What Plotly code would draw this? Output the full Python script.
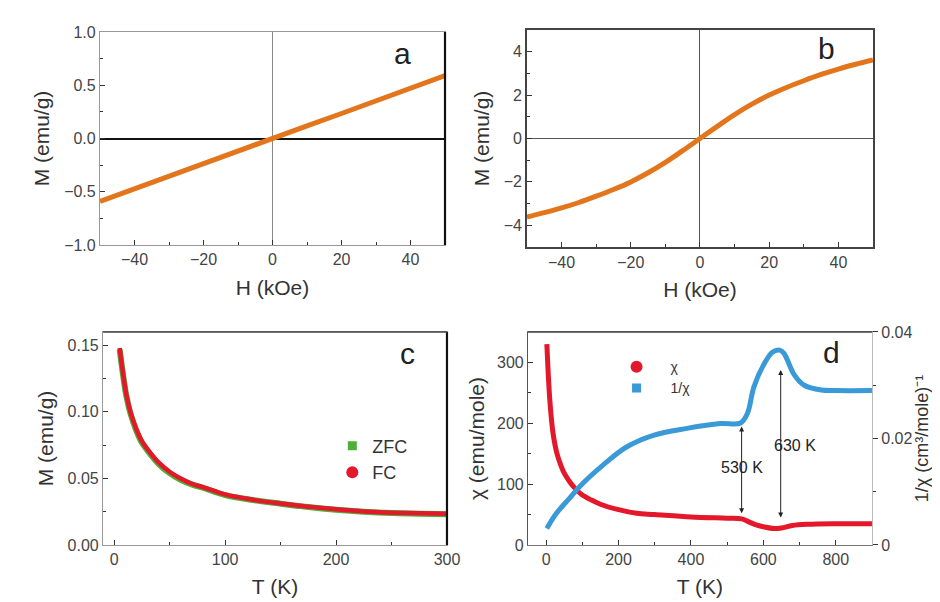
import plotly.graph_objects as go

# ---------------- data ----------------
# panel a: M vs H (linear)
H_a = [-50, -40, -30, -20, -10, 0, 10, 20, 30, 40, 50]
M_a = [-0.59, -0.47, -0.355, -0.235, -0.118, 0.0, 0.118, 0.235, 0.355, 0.47, 0.59]

# panel b: M vs H (S-shaped)
H_b = [-50, -45, -40, -35, -30, -25, -20, -15, -10, -5, 0, 5, 10, 15, 20, 25, 30, 35, 40, 45, 50]
M_b = [-3.62, -3.42, -3.2, -2.95, -2.66, -2.35, -2.0, -1.58, -1.1, -0.56, 0.0,
       0.56, 1.1, 1.58, 2.0, 2.35, 2.66, 2.95, 3.2, 3.42, 3.62]

# panel c: ZFC / FC
T_c = [5, 8, 11, 15, 20, 25, 30, 40, 50, 60, 70, 80, 100, 125, 150, 175, 200, 225, 250, 275, 300]
ZFC = [0.147, 0.128, 0.112, 0.098, 0.086, 0.077, 0.071, 0.061, 0.054, 0.049, 0.0455, 0.043,
       0.0375, 0.0338, 0.031, 0.0285, 0.0265, 0.025, 0.024, 0.0235, 0.023]
FC = [0.148, 0.129, 0.113, 0.099, 0.087, 0.078, 0.072, 0.062, 0.055, 0.050, 0.046, 0.0435,
      0.038, 0.034, 0.0312, 0.0288, 0.0268, 0.0252, 0.0243, 0.0238, 0.0234]

# panel d: chi and 1/chi vs T
T_chi = [2, 6, 10, 15, 20, 30, 40, 50, 65, 80, 100, 125, 150, 200, 250, 300, 400, 500, 540,
         560, 580, 600, 630, 650, 680, 720, 800, 900]
chi = [330, 280, 240, 205, 180, 150, 132, 118, 104, 93, 82, 74, 67, 58, 52, 50, 46, 44, 43,
       38, 33, 30, 27, 28, 32, 34, 35, 35]
T_inv = [2, 28, 65, 93, 157, 222, 296, 389, 481, 537, 556, 574, 602, 625, 645, 657, 685,
         713, 760, 800, 900]
inv_chi = [0.0031, 0.0059, 0.0088, 0.011, 0.015, 0.0184, 0.0206, 0.0219, 0.0228, 0.0229,
           0.0247, 0.0297, 0.034, 0.0362, 0.0366, 0.036, 0.032, 0.030, 0.0291, 0.029, 0.029]

# transition markers (T, upper chi, lower chi, label y)
trans_T = [540, 648]
trans_top = [197, 290]
trans_bot = [52, 45]
trans_label = ["530 K", "630 K"]
trans_label_T = [540, 688]
trans_label_y = [128, 164]

ORANGE = "#E3761C"
RED = "#E3182B"
GREEN = "#4FAE36"
BLUE = "#3A9AD8"
FONT = "Liberation Sans, Arial, sans-serif"

fig = go.Figure()

fig.add_trace(go.Scatter(x=H_a, y=M_a, mode="lines", line=dict(color=ORANGE, width=5),
                         xaxis="x", yaxis="y", showlegend=False))
fig.add_trace(go.Scatter(x=H_b, y=M_b, mode="lines", line=dict(color=ORANGE, width=5, shape="spline"),
                         xaxis="x2", yaxis="y2", showlegend=False))

fig.add_trace(go.Scatter(x=T_c, y=ZFC, mode="lines", line=dict(color=GREEN, width=6, shape="spline"),
                         xaxis="x3", yaxis="y3", showlegend=False))
fig.add_trace(go.Scatter(x=T_c, y=FC, mode="lines", line=dict(color=RED, width=4.5, shape="spline"),
                         xaxis="x3", yaxis="y3", showlegend=False))
fig.add_trace(go.Scatter(x=[None], y=[None], mode="markers", name="ZFC",
                         marker=dict(symbol="square", color=GREEN, size=9),
                         xaxis="x3", yaxis="y3", legend="legend"))
fig.add_trace(go.Scatter(x=[None], y=[None], mode="markers", name="FC",
                         marker=dict(symbol="circle", color=RED, size=12),
                         xaxis="x3", yaxis="y3", legend="legend"))

fig.add_trace(go.Scatter(x=T_chi, y=chi, mode="lines", line=dict(color=RED, width=5, shape="spline"),
                         xaxis="x4", yaxis="y4", showlegend=False))
fig.add_trace(go.Scatter(x=T_inv, y=inv_chi, mode="lines", line=dict(color=BLUE, width=5, shape="spline"),
                         xaxis="x4", yaxis="y5", showlegend=False))
fig.add_trace(go.Scatter(x=[None], y=[None], mode="markers", name="χ",
                         marker=dict(symbol="circle", color=RED, size=12),
                         xaxis="x4", yaxis="y4", legend="legend2"))
fig.add_trace(go.Scatter(x=[None], y=[None], mode="markers", name="1/χ",
                         marker=dict(symbol="square", color=BLUE, size=9),
                         xaxis="x4", yaxis="y4", legend="legend2"))

tickfont = dict(family=FONT, size=16, color="#444")
titlefont = dict(family=FONT, size=21, color="#333")


def ax(lc="#999", lw=1.2, **kw):
    base = dict(showline=True, linecolor=lc, linewidth=lw, mirror=True, automargin=False,
                showgrid=False, zeroline=False, ticks="inside", ticklen=5,
                tickcolor="#333", tickfont=tickfont, title_font=titlefont)
    base.update(kw)
    return base


fig.update_layout(
    width=940, height=602,
    margin=dict(l=0, r=0, t=0, b=0),
    paper_bgcolor="white", plot_bgcolor="white",
    font=dict(family=FONT),
    xaxis=ax(domain=[0.0979, 0.4649], anchor="y", range=[-50, 50], dtick=20,
             minor=dict(dtick=10, ticks="inside", ticklen=3),
             zeroline=True, zerolinecolor="#888", zerolinewidth=1,
             title=dict(text="H (kOe)", standoff=12)),
    yaxis=ax(domain=[0.6063, 0.9601], anchor="x", range=[-1, 1], dtick=0.5, tickformat=".1f",
             minor=dict(dtick=0.25, ticks="inside", ticklen=3),
             zeroline=True, zerolinecolor="#111", zerolinewidth=1.5,
             title=dict(text="M (emu/g)", standoff=8)),
    xaxis2=ax(lc="#444", lw=1.5, domain=[0.5521, 0.9202], anchor="y2", range=[-50, 50], dtick=20,
              minor=dict(dtick=10, ticks="inside", ticklen=3),
              zeroline=True, zerolinecolor="#555", zerolinewidth=1.3,
              title=dict(text="H (kOe)", standoff=12)),
    yaxis2=ax(lc="#444", lw=1.5, domain=[0.6030, 0.9635], anchor="x2", range=[-5, 5], dtick=2,
              minor=dict(dtick=1, ticks="inside", ticklen=3),
              zeroline=True, zerolinecolor="#555", zerolinewidth=1.3,
              title=dict(text="M (emu/g)", standoff=8)),
    xaxis3=ax(domain=[0.1011, 0.4670], anchor="y3", range=[-10, 300], dtick=100,
              minor=dict(dtick=50, ticks="inside", ticklen=3),
              title=dict(text="T (K)", standoff=12)),
    yaxis3=ax(domain=[0.1080, 0.4618], anchor="x3", range=[0, 0.16], dtick=0.05, tickformat=".2f",
              minor=dict(dtick=0.025, ticks="inside", ticklen=3),
              title=dict(text="M (emu/g)", standoff=8)),
    xaxis4=ax(lc="#777", domain=[0.5532, 0.9191], anchor="y4", range=[-50, 900], dtick=200,
              minor=dict(dtick=100, ticks="inside", ticklen=3),
              title=dict(text="T (K)", standoff=12)),
    yaxis4=ax(lc="#555", domain=[0.1080, 0.4618], anchor="x4", range=[0, 350], dtick=100, mirror=False,
              minor=dict(dtick=50, ticks="inside", ticklen=3),
              title=dict(text="χ (emu/mole)", standoff=6)),
    yaxis5=ax(lc="#bbb", overlaying="y4", anchor="x4", side="right", range=[0, 0.04], mirror=False,
              tickvals=[0, 0.02, 0.04], ticktext=["0", "0.02", "0.04"], ticks="outside",
              minor=dict(dtick=0.01, ticks="outside", ticklen=3),
              title=dict(text="1/χ (cm³/mole)⁻¹", standoff=2, font=dict(family=FONT, size=18, color="#333"))),
    legend=dict(x=0.345, y=0.303, xanchor="left", yanchor="top",
                bgcolor="rgba(0,0,0,0)", font=dict(family=FONT, size=18, color="#333"),
                itemwidth=30, tracegroupgap=0),
    legend2=dict(x=0.6325, y=0.43, xanchor="left", yanchor="top",
                 bgcolor="rgba(0,0,0,0)", font=dict(family=FONT, size=14, color="#333"),
                 itemwidth=58, tracegroupgap=0),
)

# frame accents (right borders of a and c, top borders of c and d)
for xr, yr in [("x", "y"), ("x3", "y3")]:
    fig.add_shape(type="line", xref=f"{xr} domain", yref=f"{yr} domain", x0=1, x1=1, y0=0, y1=1,
                  line=dict(color="#111", width=2.2))
for xr, yr in [("x3", "y3"), ("x4", "y4")]:
    fig.add_shape(type="line", xref=f"{xr} domain", yref=f"{yr} domain", x0=0, x1=1, y0=1, y1=1,
                  line=dict(color="#444", width=1.5))

# panel letters
for txt, xr, yr, px, py in [("a", "x", "y", 0.907, 0.985), ("b", "x2", "y2", 0.896, 1.0),
                            ("c", "x3", "y3", 0.913, 0.984), ("d", "x4", "y4", 0.913, 0.99)]:
    fig.add_annotation(text=txt, xref=f"{xr} domain", yref=f"{yr} domain", x=px, y=py,
                       showarrow=False, font=dict(family=FONT, size=30, color="#222"))

# transition arrows and labels
for T, top, bot in zip(trans_T, trans_top, trans_bot):
    fig.add_annotation(x=T, y=bot, ax=T, ay=top, xref="x4", yref="y4", axref="x4", ayref="y4",
                       text="", showarrow=True, arrowhead=2, arrowside="end+start",
                       arrowsize=1, arrowwidth=1, arrowcolor="#222")
for lab, lx, ly in zip(trans_label, trans_label_T, trans_label_y):
    fig.add_annotation(x=lx, y=ly, xref="x4", yref="y4", text=lab, showarrow=False,
                       font=dict(family=FONT, size=16, color="#222"))

fig.write_html("out.html")
